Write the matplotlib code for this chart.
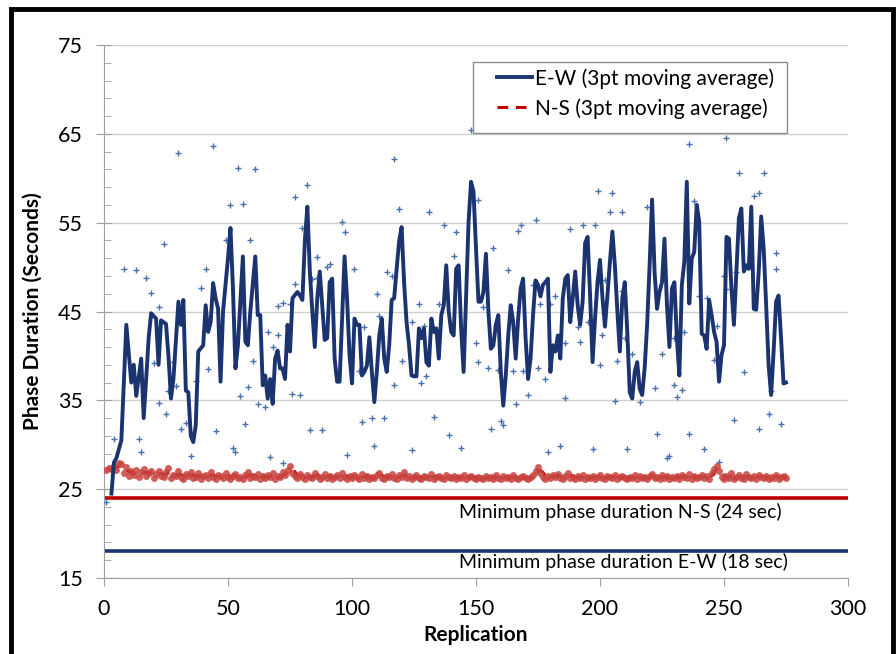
import numpy as np
import matplotlib
matplotlib.use("Agg")
import matplotlib.pyplot as plt
from matplotlib.patches import Rectangle

plt.rcParams['font.family'] = ['Lato', 'DejaVu Sans']

# ---- data ----
# E-W 3pt moving average: (replication, seconds)
ew_line = [(3, 24.5), (4, 28.0), (5, 28.5), (7, 30.5), (8, 37.0), (9, 43.5), (11, 37.0), (12, 39.0), (13, 35.5),
           (15, 39.7), (16, 33.0), (17, 37.4), (18, 42.0), (19, 44.8), (21, 44.2), (22, 39.0), (23, 44.0),
           (25, 43.6), (26, 40.0), (27, 35.2), (28, 37.4), (30, 46.1), (31, 43.5), (32, 46.3), (33, 36.1),
           (34, 35.9), (35, 31.0), (36, 30.3), (37, 32.2), (38, 40.5), (40, 41.2), (41, 45.7), (42, 42.7),
           (43, 43.8), (44, 48.2), (45, 46.5), (46, 45.3), (47, 37.1), (48, 45.0), (50, 51.0), (51, 54.4),
           (52, 47.6), (53, 38.6), (54, 41.2), (56, 51.2), (57, 41.6), (58, 41.2), (59, 45.0), (61, 51.2),
           (62, 44.6), (63, 44.6), (64, 36.7), (65, 37.8), (66, 35.2), (67, 37.4), (68, 34.6), (69, 39.7),
           (70, 40.6), (71, 38.6), (72, 38.6), (73, 37.4), (74, 43.5), (75, 40.5), (76, 46.5), (78, 47.2),
           (79, 46.8), (80, 46.3), (81, 53.0), (82, 56.8), (83, 49.5), (84, 45.0), (85, 41.0), (86, 46.5),
           (87, 49.5), (88, 45.7), (89, 41.8), (90, 42.0), (91, 48.3), (92, 48.7), (93, 39.7), (94, 37.1),
           (95, 37.1), (97, 51.2), (98, 46.5), (99, 40.1), (100, 36.9), (101, 44.2), (102, 43.5), (103, 43.5),
           (104, 37.8), (105, 38.2), (106, 38.9), (107, 42.1), (108, 38.2), (109, 34.8), (110, 38.2), (111, 42.3),
           (112, 44.2), (113, 39.7), (114, 38.2), (115, 41.2), (116, 46.3), (117, 46.5), (118, 49.8), (119, 52.9),
           (120, 54.5), (121, 48.3), (122, 43.8), (123, 41.2), (124, 37.8), (125, 37.7), (126, 37.7), (127, 43.1),
           (128, 42.0), (129, 43.1), (130, 39.3), (131, 38.9), (132, 44.2), (133, 42.7), (134, 43.1), (135, 39.7),
           (136, 44.6), (137, 45.7), (138, 50.2), (139, 45.0), (140, 42.7), (141, 42.3), (142, 49.8), (143, 50.2),
           (144, 43.1), (145, 38.2), (146, 46.5), (147, 55.1), (148, 59.6), (149, 58.5), (150, 52.1), (151, 46.1),
           (152, 46.1), (153, 47.2), (154, 51.5), (155, 45.0), (156, 40.8), (157, 41.2), (158, 43.5), (159, 44.6),
           (160, 38.2), (161, 34.4), (162, 37.8), (163, 42.3), (164, 45.7), (165, 43.8), (166, 39.7), (167, 44.2),
           (168, 47.6), (169, 48.7), (170, 42.0), (171, 37.4), (172, 39.7), (173, 44.6), (174, 48.5), (175, 48.0),
           (176, 46.7), (177, 48.0), (178, 48.3), (179, 48.7), (180, 38.2), (181, 41.2), (182, 40.5), (183, 42.3),
           (184, 39.7), (185, 46.5), (186, 48.7), (187, 49.1), (188, 43.8), (189, 46.5), (190, 49.5), (191, 45.7),
           (192, 43.5), (193, 46.1), (194, 52.7), (195, 53.4), (196, 46.8), (197, 39.3), (198, 44.2), (199, 48.3),
           (200, 50.8), (201, 46.5), (202, 43.3), (203, 46.8), (204, 50.6), (205, 54.0), (206, 50.2), (207, 45.0),
           (208, 40.5), (209, 46.5), (210, 48.3), (211, 42.7), (212, 35.9), (213, 35.2), (214, 38.2), (215, 39.3),
           (216, 36.3), (217, 35.6), (218, 38.6), (219, 43.5), (220, 50.2), (221, 57.6), (222, 49.5), (223, 45.3),
           (224, 47.2), (225, 48.3), (226, 53.2), (227, 45.7), (228, 41.0), (229, 47.6), (230, 48.3), (231, 42.0),
           (232, 37.8), (233, 48.0), (234, 50.6), (235, 59.6), (236, 45.9), (237, 51.0), (238, 51.7), (239, 57.0),
           (240, 55.1), (241, 42.5), (242, 42.3), (243, 40.8), (244, 46.3), (245, 44.6), (246, 42.7), (247, 41.6),
           (248, 37.1), (249, 40.1), (250, 41.2), (251, 53.4), (252, 53.2), (253, 47.6), (254, 43.5), (255, 49.5),
           (256, 55.5), (257, 56.6), (258, 49.5), (259, 50.2), (260, 49.8), (261, 56.8), (262, 45.3), (263, 45.2),
           (264, 49.5), (265, 55.7), (266, 52.1), (267, 45.7), (268, 38.9), (269, 35.6), (270, 40.5), (271, 46.1),
           (272, 46.8), (273, 42.0), (274, 36.9), (275, 37.0)]

# E-W individual replications visible away from the moving-average line: (replication, seconds)
ew_points = [(1, 23.6), (4, 30.7), (8, 49.8), (13, 49.7), (14, 30.6), (15, 29.2), (17, 48.8), (19, 47.1),
             (20, 39.2), (22, 45.5), (22, 34.7), (24, 52.6), (25, 33.5), (26, 36.0), (28, 39.3), (29, 36.6),
             (30, 62.8), (31, 31.8), (33, 32.5), (35, 28.7), (37, 37.2), (39, 47.7), (41, 49.8), (42, 38.5),
             (44, 63.6), (45, 31.6), (49, 53.0), (51, 57.0), (52, 29.6), (53, 29.2), (54, 61.2), (55, 35.5),
             (56, 57.1), (57, 32.3), (58, 36.5), (59, 53.1), (60, 39.4), (61, 61.0), (62, 34.6), (65, 34.2),
             (66, 42.7), (67, 28.6), (68, 41.0), (70, 45.6), (70, 42.4), (72, 28.0), (72, 46.0), (75, 45.8),
             (76, 35.7), (77, 57.9), (77, 48.1), (79, 35.6), (80, 54.4), (82, 59.2), (83, 31.7), (84, 48.7),
             (86, 51.1), (86, 48.8), (88, 31.7), (90, 50.0), (91, 50.3), (96, 55.1), (97, 53.9), (98, 28.8),
             (101, 49.8), (103, 38.3), (104, 32.6), (105, 43.2), (108, 33.0), (109, 29.9), (110, 47.0),
             (111, 44.5), (113, 33.0), (114, 49.5), (116, 49.0), (117, 36.7), (117, 62.2), (119, 56.5),
             (120, 39.4), (124, 43.8), (124, 29.4), (127, 45.9), (128, 36.9), (129, 43.4), (130, 37.7),
             (131, 56.2), (133, 33.1), (135, 45.8), (137, 54.7), (139, 31.1), (141, 51.2), (142, 53.9),
             (144, 29.6), (148, 65.4), (150, 41.4), (151, 39.3), (151, 57.6), (153, 45.5), (155, 38.6),
             (156, 31.8), (157, 52.1), (158, 43.4), (159, 38.4), (160, 32.7), (161, 32.2), (163, 49.7),
             (165, 38.3), (166, 34.6), (167, 54.1), (168, 54.7), (169, 38.3), (171, 35.6), (173, 48.0),
             (174, 55.3), (175, 38.6), (176, 45.9), (178, 37.4), (179, 29.2), (180, 45.8), (182, 46.7),
             (184, 29.9), (186, 41.4), (186, 35.3), (188, 54.3), (191, 43.2), (192, 41.6), (193, 54.7),
             (195, 43.8), (197, 29.5), (198, 54.7), (199, 58.6), (200, 39.0), (201, 42.3), (202, 48.6),
             (204, 56.2), (205, 58.3), (206, 34.9), (207, 39.4), (209, 56.2), (209, 47.3), (210, 42.0),
             (211, 29.5), (213, 40.2), (216, 34.8), (219, 56.8), (221, 68.1), (222, 36.4), (223, 31.2),
             (223, 72.7), (225, 40.2), (227, 28.5), (228, 28.7), (230, 36.7), (230, 42.0), (231, 35.4),
             (233, 36.2), (234, 72.7), (234, 42.7), (236, 31.2), (236, 63.9), (238, 57.4), (239, 67.7),
             (240, 46.7), (242, 29.5), (243, 46.5), (246, 39.5), (247, 43.4), (248, 28.1), (250, 49.0),
             (251, 47.5), (251, 64.5), (254, 32.8), (255, 49.5), (256, 60.6), (258, 38.2), (262, 58.0),
             (264, 31.8), (264, 58.3), (266, 60.6), (268, 33.5), (269, 36.1), (271, 51.6), (271, 49.8),
             (273, 32.3)]

ns_val = [27.2, 27.4, 27.3, 27.6, 27.2, 28.0, 27.8, 26.8, 27.5, 26.5,
          27.0, 26.6, 27.2, 26.4, 26.9, 27.3, 26.5, 26.8, 27.0, 26.3,
          26.7, 27.1, 26.5, 26.4, 26.9, 27.4, 26.3, 26.6, 26.5, 27.0,
          26.4, 26.2, 26.7, 26.5, 26.9, 26.3, 26.4, 26.8, 26.2, 26.5,
          26.6, 26.3, 26.9, 26.4, 26.2, 26.6, 26.5, 26.3, 26.8, 26.4,
          26.2, 26.5, 26.7, 26.3, 26.4, 26.2, 26.6, 26.9, 26.3, 26.5,
          26.4, 26.7, 26.2, 26.5, 26.3, 26.6, 26.4, 26.8, 26.2, 26.5,
          26.4, 26.9, 26.6, 27.2, 27.6, 26.8, 26.5, 26.3, 26.7, 26.4,
          26.2, 26.6, 26.4, 26.3, 26.8, 26.5, 26.2, 26.4, 26.7, 26.3,
          26.5, 26.2, 26.4, 26.6, 26.3, 26.8, 26.4, 26.2, 26.5, 26.3,
          26.6, 26.4, 26.2, 26.7, 26.3, 26.5, 26.2, 26.4, 26.3, 26.6,
          26.8, 26.3, 26.2, 26.5, 26.4, 26.7, 26.3, 26.2, 26.6, 26.4,
          26.9, 26.3, 26.5, 26.2, 26.4, 26.6, 26.3, 26.2, 26.5, 26.4,
          26.3, 26.7, 26.2, 26.4, 26.5, 26.3, 26.2, 26.6, 26.4, 26.3,
          26.5, 26.2, 26.4, 26.3, 26.6, 26.2, 26.4, 26.5, 26.3, 26.2,
          26.4, 26.3, 26.2, 26.5, 26.3, 26.4, 26.2, 26.6, 26.3, 26.2,
          26.5, 26.3, 26.4, 26.2, 26.6, 26.3, 26.2, 26.4, 26.5, 26.3,
          26.2, 26.4, 26.6, 27.0, 27.5, 26.8, 26.4, 26.2, 26.5, 26.3,
          26.6, 26.4, 26.7, 26.3, 26.2, 26.5, 26.8, 26.3, 26.4, 26.2,
          26.5, 26.3, 26.6, 26.2, 26.4, 26.3, 26.5, 26.2, 26.4, 26.6,
          26.3, 26.2, 26.5, 26.4, 26.3, 26.6, 26.2, 26.4, 26.5, 26.3,
          26.2, 26.4, 26.3, 26.6, 26.2, 26.5, 26.3, 26.4, 26.2, 26.5,
          26.7, 26.3, 26.4, 26.2, 26.6, 26.3, 26.5, 26.2, 26.4, 26.3,
          26.5, 26.2, 26.6, 26.4, 26.3, 26.7, 26.2, 26.5, 26.3, 26.4,
          26.6, 26.3, 26.5, 26.2, 26.8, 27.3, 27.6, 27.0, 26.4, 26.2,
          26.5, 26.3, 26.8, 26.2, 26.4, 26.6, 26.3, 26.2, 26.7, 26.4,
          26.3, 26.5, 26.2, 26.6, 26.4, 26.3, 26.5, 26.2, 26.4, 26.3,
          26.6, 26.2, 26.4, 26.5, 26.3]
ns_rep = list(range(1, len(ns_val) + 1))

min_ns = 24
min_ew = 18
x_ticks = [0, 50, 100, 150, 200, 250, 300]
y_ticks = [15, 25, 35, 45, 55, 65, 75]

# ---- figure ----
fig = plt.figure(figsize=(8.96, 6.54), dpi=100)
fig.patches.append(Rectangle((11 / 896, -0.05), (893 - 11) / 896, 1.05 - 9 / 654,
                             transform=fig.transFigure, fill=False, edgecolor='black', linewidth=3.5))
ax = fig.add_axes([104 / 896, 1 - 578 / 654, (848 - 104) / 896, (578 - 45) / 654])

navy = '#1B3470'
red = '#C00000'

ax.axhline(min_ns, color=red, linewidth=2.6, zorder=2)
ax.axhline(min_ew, color=navy, linewidth=2.6, zorder=2)

ax.plot([p[0] for p in ew_points], [p[1] for p in ew_points], linestyle='none', marker='+',
        markersize=4, markeredgewidth=1.0, color='#4A72AE', zorder=3)

ns_ma = np.convolve(np.array(ns_val), np.ones(3) / 3, mode='valid')
ln_ns, = ax.plot(ns_rep[2:], ns_ma, color=red, linestyle=(0, (3.5, 2.5)), linewidth=2.2, zorder=3.5,
                 label='N-S (3pt moving average)')
ax.plot(ns_rep, ns_val, linestyle='none', marker='o', markersize=5, markeredgewidth=0,
        color='#C8433F', alpha=0.85, zorder=4)

ln_ew, = ax.plot([p[0] for p in ew_line], [p[1] for p in ew_line], color=navy, linewidth=2.8,
                 zorder=5, solid_joinstyle='round', label='E-W (3pt moving average)')

ax.set_xlim(0, 300)
ax.set_ylim(15, 75)
ax.set_xticks(x_ticks)
ax.set_yticks(y_ticks)
ax.set_yticks(np.arange(15, 76, 2), minor=True)
ax.grid(axis='y', which='major', color='#D0D0D0', linewidth=1.0, zorder=0)
ax.set_axisbelow(True)
for s in ['top', 'right']:
    ax.spines[s].set_visible(False)
for s in ['left', 'bottom']:
    ax.spines[s].set_color('#A0A0A0')
ax.tick_params(axis='x', which='major', labelsize=15.5, colors='#A0A0A0', labelcolor='black',
               length=6, pad=9)
ax.tick_params(axis='y', which='major', labelsize=15.5, colors='#A0A0A0', labelcolor='black',
               direction='inout', length=12, pad=9)
ax.tick_params(axis='y', which='minor', colors='#A0A0A0', direction='in', length=5)
ax.set_xlabel('Replication', fontsize=15, fontweight='bold')
ax.set_ylabel('Phase Duration (Seconds)', fontsize=15, fontweight='bold')
ax.xaxis.set_label_coords(0.5, -0.088)
ax.yaxis.set_label_coords(-0.083, 0.5)

ax.text(143, 22.4, 'Minimum phase duration N-S (24 sec)', fontsize=14, ha='left', va='center')
ax.text(143, 16.8, 'Minimum phase duration E-W (18 sec)', fontsize=14, ha='left', va='center')

# legend box (frame drawn separately to match the reference placement)
ax.add_patch(Rectangle(((473 - 104) / 744, (578 - 133) / 533), (787 - 473) / 744, (133 - 62) / 533,
                       transform=ax.transAxes, facecolor='white', edgecolor='#8C8C8C',
                       linewidth=1.0, zorder=6))
leg = ax.legend(handles=[ln_ew, ln_ns], loc='upper left', bbox_to_anchor=((497 - 104) / 744, (578 - 68) / 533),
                fontsize=15, frameon=False, handlelength=1.7, handletextpad=0.1,
                borderpad=0, borderaxespad=0, labelspacing=0.45)
leg.set_zorder(7)

fig.savefig('out.png', dpi=100, facecolor='white')
